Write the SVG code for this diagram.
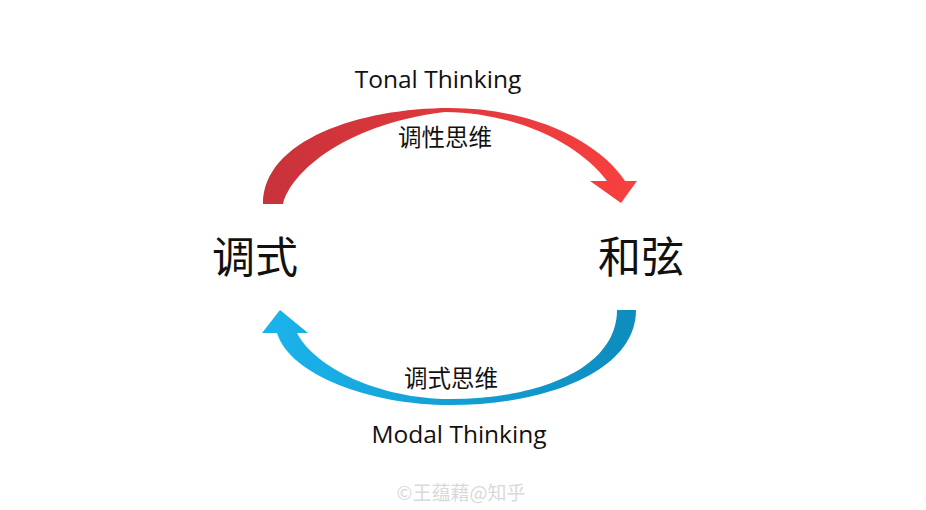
<svg xmlns="http://www.w3.org/2000/svg" width="926" height="510" viewBox="0 0 926 510">
<defs>
<linearGradient id="gRed" x1="0" y1="0" x2="1" y2="0">
<stop offset="0" stop-color="#c8323a"/>
<stop offset="1" stop-color="#f8403f"/>
</linearGradient>
<linearGradient id="gBlue" x1="0" y1="0" x2="1" y2="0">
<stop offset="0" stop-color="#1ab4ec"/>
<stop offset="1" stop-color="#0e8cbd"/>
</linearGradient>
<style>
.en{font-family:"Open Sans","Noto Sans",sans-serif;fill:#111;}
.cj{font-family:"Noto Sans CJK SC",sans-serif;fill:#111;}
</style>
</defs>
<rect width="926" height="510" fill="#fff"/>
<g id="connectors">
<path id="tonal-arrow" fill="url(#gRed)" d="M263,204 C263,140 360,108 450,108 C530,108 598,140 625,181 L637,181 L621,203 L590,181 L607,181 C580,145 520,113 445,112 C340,125 290,175 283,204 Z"/>
<path id="modal-arrow" fill="url(#gBlue)" d="M636,310 C636,372 545,405 450,405 C370,405 290,375 277,333 L262,333 L280,310 L308,333 L297,333 C315,368 380,399 450,399 C540,399 617,368 617,310 Z"/>
</g>
<g id="label-tonal">
<text class="en" x="438" y="88" font-size="24.5" text-anchor="middle">Tonal Thinking</text>
<text class="cj" x="445" y="146" font-size="23.5" text-anchor="middle">调性思维</text>
</g>
<g id="label-modal">
<text class="cj" x="451" y="387" font-size="23.5" text-anchor="middle">调式思维</text>
<text class="en" x="459" y="443" font-size="24.5" text-anchor="middle">Modal Thinking</text>
</g>
<g id="node-mode">
<text class="cj" x="255" y="273" font-size="43" text-anchor="middle">调式</text>
</g>
<g id="node-chord">
<text class="cj" x="641" y="273" font-size="43" text-anchor="middle">和弦</text>
</g>
<g id="watermark">
<text x="461" y="500" font-size="19" text-anchor="middle" fill="#d9d9d9" font-family="Noto Sans CJK SC,sans-serif">©王蕴藉@知乎</text>
</g>
</svg>
